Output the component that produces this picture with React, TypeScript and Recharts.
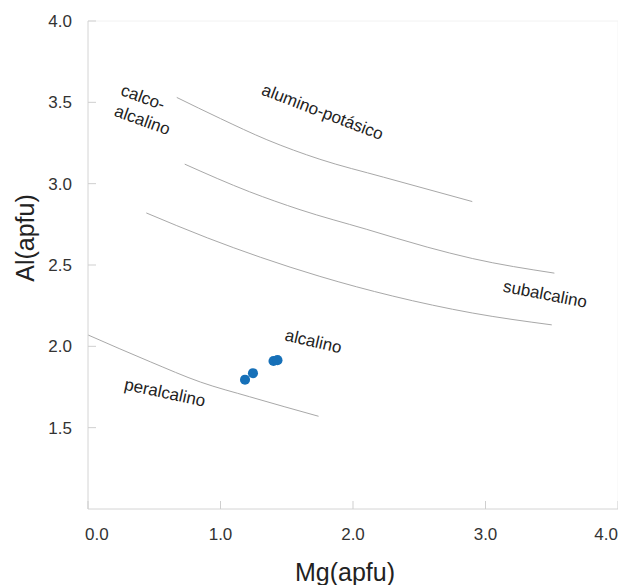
import React from "react";
import { ComposedChart, XAxis, YAxis, ZAxis, Line, Scatter, ReferenceLine } from "recharts";

const xTicks = [0, 1, 2, 3, 4];
const yTicks = [1.5, 2.0, 2.5, 3.0, 3.5, 4.0];

const curveAluminoPotasico = [
  { x: 0.67, y: 3.53 },
  { x: 1.0, y: 3.4 },
  { x: 1.35, y: 3.27 },
  { x: 1.75, y: 3.15 },
  { x: 2.23, y: 3.04 },
  { x: 2.9, y: 2.89 },
];
const curveCalcoAlcalino = [
  { x: 0.73, y: 3.12 },
  { x: 1.22, y: 2.95 },
  { x: 1.6, y: 2.84 },
  { x: 2.1, y: 2.72 },
  { x: 2.56, y: 2.61 },
  { x: 2.9, y: 2.54 },
  { x: 3.52, y: 2.45 },
];
const curveSubalcalino = [
  { x: 0.44, y: 2.82 },
  { x: 0.9, y: 2.667 },
  { x: 1.3, y: 2.548 },
  { x: 1.75, y: 2.43 },
  { x: 2.3, y: 2.309 },
  { x: 2.9, y: 2.205 },
  { x: 3.5, y: 2.132 },
];
const curvePeralcalino = [
  { x: 0.0, y: 2.07 },
  { x: 0.47, y: 1.905 },
  { x: 0.85, y: 1.78 },
  { x: 1.22, y: 1.69 },
  { x: 1.74, y: 1.57 },
];

const samples = [
  { x: 1.185, y: 1.795 },
  { x: 1.245, y: 1.835 },
  { x: 1.4, y: 1.91 },
  { x: 1.43, y: 1.915 },
];

const fieldLabels = [
  { x: 1.77, y: 3.44, text: "alumino-potásico", angle: 21 },
  { x: 0.415, y: 3.53, text: "calco-", angle: 20 },
  { x: 0.41, y: 3.39, text: "alcalino", angle: 20 },
  { x: 3.45, y: 2.32, text: "subalcalino", angle: 11 },
  { x: 1.7, y: 2.03, text: "alcalino", angle: 13 },
  { x: 0.58, y: 1.715, text: "peralcalino", angle: 12 },
];

const FONT = "'Liberation Sans', Arial, Helvetica, sans-serif";

const XTick = (props: any) => {
  const { x, y, payload, index } = props;
  const v = Number(payload.value);
  let anchor: "start" | "middle" | "end" = "middle";
  let tx = x;
  if (v === xTicks[0]) {
    anchor = "start";
    tx = x - 3;
  } else if (v === xTicks[xTicks.length - 1]) {
    anchor = "end";
    tx = x;
  }
  return (
    <g key={index}>
      <line x1={x} y1={y} x2={x} y2={y - 8} stroke="#cfcfcf" strokeWidth={1} />
      <text x={tx} y={y + 31} textAnchor={anchor} fontSize={17} fill="#333" fontFamily={FONT}>
        {v.toFixed(1)}
      </text>
    </g>
  );
};

const YTick = (props: any) => {
  const { x, y, payload } = props;
  return (
    <g>
      <line x1={x} y1={y} x2={x + 8} y2={y} stroke="#cfcfcf" strokeWidth={1} />
      <text x={x - 16} y={y + 6} textAnchor="end" fontSize={17} fill="#333" fontFamily={FONT}>
        {Number(payload.value).toFixed(1)}
      </text>
    </g>
  );
};

const LabelShape = (props: any) => {
  const { cx, cy, payload } = props;
  return (
    <text
      x={cx}
      y={cy}
      textAnchor="middle"
      dominantBaseline="central"
      fontSize={17}
      fill="#222"
      fontFamily={FONT}
      transform={`rotate(${payload.angle} ${cx} ${cy})`}
    >
      {payload.text}
    </text>
  );
};

const curveStyle = { stroke: "#a8a8a8", strokeWidth: 1 };

export default function App() {
  return (
    <ComposedChart
      width={618}
      height={577}
      margin={{ top: 13, right: 8, bottom: 46, left: 0 }}
      style={{ fontFamily: FONT }}
    >
      <XAxis
        type="number"
        dataKey="x"
        domain={[0, 4]}
        ticks={xTicks}
        tickSize={0}
        tickMargin={0}
        tick={<XTick />}
        stroke="#d4d4d4"
        height={30}
        allowDataOverflow
        label={{
          content: (p: any) => (
            <text
              x={p.viewBox.x + 257}
              y={p.viewBox.y + 72}
              textAnchor="middle"
              fontSize={25}
              fill="#222"
              fontFamily={FONT}
            >
              Mg(apfu)
            </text>
          ),
        }}
      />
      <YAxis
        type="number"
        dataKey="y"
        domain={[1, 4]}
        ticks={yTicks}
        tickSize={0}
        tickMargin={0}
        tick={<YTick />}
        stroke="#d4d4d4"
        width={80}
        allowDataOverflow
        label={{
          content: (p: any) => {
            const cx = p.viewBox.x + 17;
            const cy = p.viewBox.y + 217;
            return (
              <text
                x={cx}
                y={cy}
                textAnchor="middle"
                dominantBaseline="central"
                fontSize={25}
                fill="#222"
                fontFamily={FONT}
                transform={`rotate(-90 ${cx} ${cy})`}
              >
                Al(apfu)
              </text>
            );
          },
        }}
      />
      <ZAxis range={[80, 80]} />
      <ReferenceLine y={4} stroke="#f2f2f2" />
      <ReferenceLine x={4} stroke="#f4f4f4" />
      <Line data={curveAluminoPotasico} dataKey="y" type="monotone" dot={false} isAnimationActive={false} {...curveStyle} />
      <Line data={curveCalcoAlcalino} dataKey="y" type="monotone" dot={false} isAnimationActive={false} {...curveStyle} />
      <Line data={curveSubalcalino} dataKey="y" type="monotone" dot={false} isAnimationActive={false} {...curveStyle} />
      <Line data={curvePeralcalino} dataKey="y" type="monotone" dot={false} isAnimationActive={false} {...curveStyle} />
      <Scatter data={samples} fill="#1670b8" shape="circle" isAnimationActive={false} />
      <Scatter data={fieldLabels} shape={<LabelShape />} isAnimationActive={false} />
    </ComposedChart>
  );
}
